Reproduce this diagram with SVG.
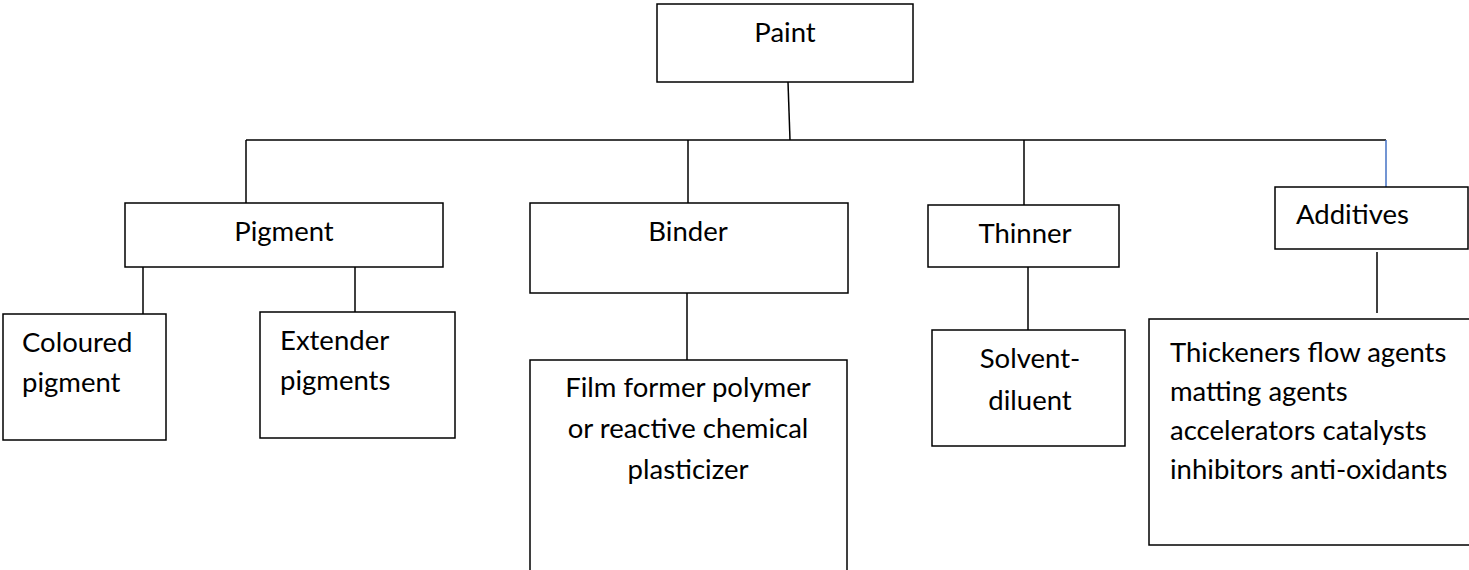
<svg xmlns="http://www.w3.org/2000/svg" width="1469" height="570" viewBox="0 0 1469 570">
<style>
.box{fill:#fff;stroke:#000;stroke-width:1.5}
.t{font-family:Lato,"Open Sans","Liberation Sans",sans-serif;font-size:27.5px;fill:#000}
.c{text-anchor:middle}
.ln{stroke:#000;stroke-width:1.5;fill:none}
.blue{stroke:#4472C4;stroke-width:1.5;fill:none}
</style>
<rect width="1469" height="570" fill="#fff"/>
<g id="connectors">
<line class="ln" x1="788" y1="82" x2="790" y2="140"/>
<line class="ln" x1="246" y1="140" x2="1386" y2="140"/>
<line class="ln" x1="246" y1="140" x2="246" y2="203"/>
<line class="ln" x1="688" y1="140" x2="688" y2="203"/>
<line class="ln" x1="1024" y1="140" x2="1024" y2="205"/>
<line class="blue" x1="1386" y1="140" x2="1386" y2="187"/>
<line class="ln" x1="143" y1="267" x2="143" y2="314"/>
<line class="ln" x1="355" y1="267" x2="355" y2="312"/>
<line class="ln" x1="687" y1="293" x2="687" y2="360"/>
<line class="ln" x1="1028" y1="267" x2="1028" y2="330"/>
<line class="ln" x1="1377" y1="252" x2="1377" y2="313"/>
</g>
<g id="paint">
<rect class="box" x="657" y="4" width="256" height="78"/>
<text class="t c" x="785" y="42">Paint</text>
</g>
<g id="pigment">
<rect class="box" x="125" y="203" width="318" height="64"/>
<text class="t c" x="284" y="241">Pigment</text>
</g>
<g id="binder">
<rect class="box" x="530" y="203" width="318" height="90"/>
<text class="t c" x="688" y="241">Binder</text>
</g>
<g id="thinner">
<rect class="box" x="928" y="205" width="191" height="62"/>
<text class="t c" x="1025" y="243">Thinner</text>
</g>
<g id="additives">
<rect class="box" x="1275" y="187" width="193" height="62"/>
<text class="t" x="1296" y="224">Additives</text>
</g>
<g id="coloured">
<rect class="box" x="3" y="314" width="163" height="126"/>
<text class="t" x="22" y="352">Coloured</text>
<text class="t" x="22" y="392">pigment</text>
</g>
<g id="extender">
<rect class="box" x="260" y="312" width="195" height="126"/>
<text class="t" x="280" y="350">Extender</text>
<text class="t" x="280" y="390">pigments</text>
</g>
<g id="film">
<rect class="box" x="530" y="360" width="317" height="220"/>
<text class="t c" x="688" y="397">Film former polymer</text>
<text class="t c" x="688" y="438">or reactive chemical</text>
<text class="t c" x="688" y="479">plasticizer</text>
</g>
<g id="solvent">
<rect class="box" x="932" y="330" width="193" height="116"/>
<text class="t c" x="1030" y="368">Solvent-</text>
<text class="t c" x="1030" y="410">diluent</text>
</g>
<g id="thickeners">
<rect class="box" x="1149" y="319" width="340" height="226"/>
<text class="t" x="1170" y="362">Thickeners flow agents</text>
<text class="t" x="1170" y="401">matting agents</text>
<text class="t" x="1170" y="440">accelerators catalysts</text>
<text class="t" x="1170" y="479">inhibitors anti-oxidants</text>
</g>
</svg>
